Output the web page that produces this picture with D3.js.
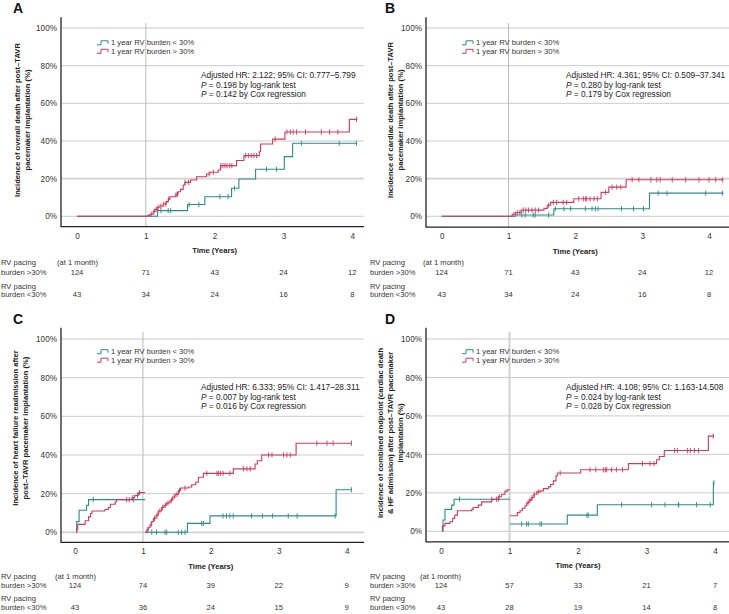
<!DOCTYPE html>
<html><head><meta charset="utf-8">
<script src="https://cdn.jsdelivr.net/npm/d3@7"></script>
<style>body{margin:0;background:#fff} svg{display:block;font-family:"Liberation Sans",Arial,Helvetica,sans-serif}</style>
</head><body><svg id="c" width="729" height="614"></svg>
<script>
// ---------- data ----------
const xTicks = [0, 1, 2, 3, 4];
const yTicks = [0, 20, 40, 60, 80, 100];
const legendLabels = ["1 year RV burden < 30%", "1 year RV burden > 30%"];
const panelLetters = ["A", "B", "C", "D"];
const yTitles = [
  ["Incidence of overall death after post\u2013TAVR", "pacemaker implantation (%)"],
  ["Incidence of cardiac death after post\u2013TAVR", "pacemaker implantation (%)"],
  ["Incidence of heart failure readmission after", "post\u2013TAVR pacemaker implantation (%)"],
  ["Incidence of combined endpoint (cardiac death", "& HF admission) after post\u2013TAVR pacemaker", "implantation (%)"]
];
const hrTexts = [
  "Adjusted HR: 2.122; 95% CI: 0.777\u20135.799",
  "Adjusted HR: 4.361; 95% CI: 0.509\u201337.341",
  "Adjusted HR: 6.333; 95% CI: 1.417\u201328.311",
  "Adjusted HR: 4.108; 95% CI: 1.163-14.508"
];
const logRankP = ["0.198", "0.280", "0.007", "0.024"];
const coxP = ["0.142", "0.179", "0.016", "0.028"];

// number at risk
const riskHighA = [124, 71, 43, 24, 12], riskLowA = [43, 34, 24, 16, 8];
const riskHighB = [124, 71, 43, 24, 12], riskLowB = [43, 34, 24, 16, 8];
const riskHighC = [124, 74, 39, 22, 9],  riskLowC = [43, 36, 24, 15, 9];
const riskHighD = [124, 57, 33, 21, 7],  riskLowD = [43, 28, 19, 14, 8];

// Panel A curves [time (years), cumulative incidence %]
const A_low = [[0,0],[1.17,3.0],[1.606,6.3],[1.858,10.4],[2.246,14.9],[2.352,19.8],[2.595,25.0],[3.012,31.7],[3.133,38.8],[4.073,38.8]];
const A_high = [[0,0],[1.03,0.5],[1.058,1.1],[1.107,2.5],[1.131,3.7],[1.165,4.8],[1.204,5.5],[1.252,6.5],[1.30,7.8],[1.325,9.0],[1.349,10.4],[1.436,11.7],[1.47,13.0],[1.504,14.3],[1.543,16.6],[1.567,18.0],[1.65,19.3],[1.737,21.0],[1.882,22.5],[1.931,23.4],[2.052,24.6],[2.086,26.9],[2.318,29.6],[2.425,32.2],[2.648,34.3],[2.667,38.4],[2.842,41.0],[3.021,44.8],[3.957,51.5],[4.073,51.5]];
const A_lowCens = [1.22,1.325,1.36,1.63,1.77,2.076,2.196,2.29,2.753,2.898,3.26,3.81,4.06];
const A_highCens = [1.08,1.12,1.15,1.18,1.22,1.26,1.29,1.33,1.44,1.46,1.57,1.62,1.92,1.98,2.09,2.12,2.15,2.18,2.22,2.25,2.45,2.49,2.53,2.57,2.61,2.88,3.05,3.10,3.14,3.19,3.32,3.55,3.67,3.79,4.06];

// Panel B
const B_low = [[0,0],[1.105,0.7],[1.678,4.0],[3.11,12.3],[4.22,12.3]];
const B_high = [[0,0],[1.055,1.1],[1.105,2.0],[1.19,3.3],[1.53,4.2],[1.58,5.9],[1.63,7.4],[1.977,9.3],[2.385,12.7],[2.5,15.5],[2.76,19.4],[4.22,19.4]];
const B_lowCens = [1.2,1.25,1.37,1.4,1.6,1.7,1.83,1.93,2.15,2.25,2.3,2.34,2.69,2.87,3.02,3.24,3.37,3.95,4.2];
const B_highCens = [1.08,1.13,1.17,1.22,1.26,1.3,1.35,1.4,1.45,1.6,1.67,1.72,1.82,1.87,2.05,2.12,2.15,2.17,2.22,2.28,2.33,2.45,2.55,2.62,2.68,2.85,2.95,3.13,3.22,3.27,3.45,3.65,3.85,4.0,4.1,4.2];

// Panel C (two landmark segments)
const C_low1 = [[0.02,0],[0.025,5.5],[0.06,11.4],[0.17,14.0],[0.2,16.9],[1.03,16.9]];
const C_high1 = [[0.02,0],[0.025,1.5],[0.04,4.1],[0.15,6.0],[0.2,8.0],[0.23,9.7],[0.25,11.0],[0.44,11.8],[0.49,12.8],[0.52,14.5],[0.59,15.7],[0.61,16.9],[0.84,17.9],[0.88,19.0],[0.93,20.5],[1.03,20.5]];
const C_low2 = [[1.03,0],[1.655,4.6],[1.988,8.5],[3.844,22.0],[4.075,22.0]];
const C_high2 = [[1.03,0],[1.055,1.2],[1.08,2.6],[1.105,3.9],[1.129,5.5],[1.154,7.2],[1.193,8.9],[1.227,11.1],[1.276,12.8],[1.311,14.0],[1.35,15.2],[1.399,16.6],[1.438,18.3],[1.473,19.6],[1.522,21.7],[1.556,22.9],[1.669,23.4],[1.718,24.6],[1.777,25.9],[1.816,28.5],[1.89,30.5],[2.332,32.8],[2.651,35.3],[2.685,37.0],[2.749,40.0],[3.255,46.1],[4.075,46.1]];
const C_lowCens = [0.27,0.86,1.13,1.2,1.325,1.35,1.52,1.57,1.62,1.865,1.89,2.18,2.23,2.28,2.33,2.6,2.76,2.91,3.14,3.27,3.83,4.07];
const C_highCens = [0.76,0.8,0.85,0.92,0.95,1.07,1.12,1.17,1.21,1.25,1.29,1.33,1.37,1.42,1.46,1.5,1.54,1.62,1.94,2.09,2.11,2.14,2.18,2.28,2.48,2.53,2.58,2.85,2.9,3.07,3.12,3.17,3.56,3.71,3.8,4.07];

// Panel D (two landmark segments)
const D_low1 = [[0.024,0],[0.03,5.9],[0.058,11.4],[0.156,13.6],[0.19,16.7],[1.007,16.7]];
const D_high1 = [[0.015,0],[0.02,2.8],[0.058,4.1],[0.13,5.0],[0.17,6.7],[0.2,8.4],[0.24,10.7],[0.45,11.4],[0.47,12.4],[0.545,13.6],[0.594,15.3],[0.74,16.6],[0.837,18.0],[0.886,19.3],[0.934,20.9],[0.968,21.6],[1.007,21.6]];
const D_low2 = [[1.007,3.8],[1.844,8.4],[2.282,13.8],[3.976,25.3],[3.985,25.3]];
const D_high2 = [[1.007,8.1],[1.114,9.7],[1.153,10.7],[1.187,12.0],[1.226,13.3],[1.25,14.8],[1.285,16.2],[1.324,17.6],[1.358,19.3],[1.397,20.5],[1.445,21.0],[1.494,22.2],[1.567,23.1],[1.601,24.3],[1.64,26.2],[1.679,28.8],[1.698,30.3],[2.039,32.0],[2.735,35.2],[3.148,37.2],[3.187,38.9],[3.26,42.0],[3.903,49.5],[3.985,49.5]];
const D_lowCens = [0.27,0.84,1.178,1.25,1.275,1.445,1.47,2.13,2.15,2.637,3.075,3.27,3.465,3.47,3.73,3.93,3.985];
const D_highCens = [0.74,0.81,0.85,1.27,1.3,1.33,1.36,1.42,1.74,2.175,2.26,2.37,2.4,2.42,2.49,2.56,2.65,2.94,3.05,3.11,3.41,3.45,3.6,3.64,3.7,3.76,3.975];

// ---------- layout ----------
const TEAL = "#2a8a8c", RED = "#c93c5e";
const panels = [
  {axisX:61,  right:364, x0:77,    x4:352.3, y0:216.3, y100:28,  top:17.3,  vTop:23,    bottom:226.7, letterX:13,  letterY:13, titleCY:120, titleX:[17,27],
   thickGrid:20, vW:0.9,
   lowSegs:[A_low], highSegs:[A_high], lowC:A_lowCens, highC:A_highCens, riskH:riskHighA, riskL:riskLowA, tblX:1, monthX:57, tblY:[265.4,274.7,288.7,297.4]},
  {axisX:426, right:729, x0:441.7, x4:709,   y0:216.3, y100:28,  top:17.3,  vTop:23,    bottom:227.2, letterX:385, letterY:13, titleCY:120, titleX:[390,400],
   thickGrid:20, vW:0.9,
   lowSegs:[B_low], highSegs:[B_high], lowC:B_lowCens, highC:B_highCens, riskH:riskHighB, riskL:riskLowB, tblX:370, monthX:423, tblY:[265.4,274.7,288.7,297.4]},
  {axisX:61,  right:364, x0:75,    x4:346.7, y0:532.3, y100:339, top:327.7, vTop:331.7, bottom:542.3, letterX:13,  letterY:324, titleCY:428, titleX:[15,25],
   thickGrid:0, vW:0.9,
   lowSegs:[C_low1,C_low2], highSegs:[C_high1,C_high2], lowC:C_lowCens, highC:C_highCens, riskH:riskHighC, riskL:riskLowC, tblX:1, monthX:55, tblY:[579.4,588.4,601,609.7]},
  {axisX:426, right:729, x0:441,   x4:715,   y0:531.3, y100:339, top:327.7, vTop:331.7, bottom:541.8, letterX:385, letterY:324, titleCY:433, titleX:[380,390,400],
   thickGrid:-1, vW:2,
   lowSegs:[D_low1,D_low2], highSegs:[D_high1,D_high2], lowC:D_lowCens, highC:D_highCens, riskH:riskHighD, riskL:riskLowD, tblX:370, monthX:420, tblY:[579.4,588.4,601,609.7]}
];

const svg = d3.select("#c");

function stepValue(segs, t) {
  let seg = segs.find(s => t >= s[0][0] && t <= s[s.length-1][0] + 1e-9) || segs[segs.length-1];
  let v = seg[0][1];
  for (const d of seg) { if (d[0] <= t) v = d[1]; }
  return v;
}

panels.forEach((p, i) => {
  const g = svg.append("g");
  const x = d3.scaleLinear().domain([0, 4]).range([p.x0, p.x4]);
  const y = d3.scaleLinear().domain([0, 100]).range([p.y0, p.y100]);

  // horizontal gridlines
  g.append("g").selectAll("line").data(yTicks).join("line")
    .attr("x1", p.axisX).attr("x2", p.right)
    .attr("y1", d => y(d)).attr("y2", d => y(d))
    .attr("stroke", d => d === p.thickGrid ? "#d2d2d2" : "#c4c4c4")
    .attr("stroke-width", d => d === p.thickGrid ? 1.8 : 0.9);
  // vertical landmark line at 1 year
  g.append("line").attr("x1", x(1)).attr("x2", x(1)).attr("y1", p.vTop).attr("y2", p.bottom)
    .attr("stroke", p.vW > 1 ? "#d0d0d0" : "#b4b4b4").attr("stroke-width", p.vW);

  // axes
  const ya = g.append("g").attr("transform", `translate(${p.axisX},0)`)
    .call(d3.axisLeft(y).tickValues(yTicks).tickFormat(d => d + "%").tickSize(0).tickPadding(4));
  ya.select(".domain").remove();
  ya.selectAll("text").attr("font-size", 8.2).attr("fill", "#333").attr("font-family", null);
  const xa = g.append("g").attr("transform", `translate(0,${p.bottom})`)
    .call(d3.axisBottom(x).tickValues(xTicks).tickFormat(d3.format("d")).tickSize(0).tickPadding(6));
  xa.select(".domain").remove();
  xa.selectAll("text").attr("font-size", 8.2).attr("fill", "#333").attr("font-family", null);
  g.append("path").attr("d", `M${p.axisX},${p.top}V${p.bottom}H${p.right}`)
    .attr("fill", "none").attr("stroke", "#222").attr("stroke-width", 1.3);

  // curves
  const line = d3.line().x(d => x(d[0])).y(d => y(d[1])).curve(d3.curveStepAfter);
  const drawGroup = (segs, cens, color) => {
    segs.forEach(s => g.append("path").attr("d", line(s)).attr("fill", "none")
      .attr("stroke", color).attr("stroke-width", 1.1));
    g.append("g").selectAll("line").data(cens).join("line")
      .attr("x1", d => x(d)).attr("x2", d => x(d))
      .attr("y1", d => y(stepValue(segs, d)) - 2.6).attr("y2", d => y(stepValue(segs, d)) + 2.6)
      .attr("stroke", color).attr("stroke-width", 0.9);
  };
  drawGroup(p.lowSegs, p.lowC, TEAL);
  drawGroup(p.highSegs, p.highC, RED);

  // panel letter
  g.append("text").attr("x", p.letterX).attr("y", p.letterY)
    .attr("font-size", 14).attr("font-weight", "bold").attr("fill", "#111").text(panelLetters[i]);

  // y title
  yTitles[i].forEach((s, k) => {
    g.append("text").attr("transform", `translate(${p.titleX[k]},${p.titleCY}) rotate(-90)`)
      .attr("text-anchor", "middle").attr("dominant-baseline", "central")
      .attr("font-size", 7.6).attr("font-weight", "bold").attr("fill", "#222").text(s);
  });

  // x title
  g.append("text").attr("x", x(2)).attr("y", p.bottom + 26.5).attr("text-anchor", "middle")
    .attr("font-size", 7.6).attr("font-weight", "bold").attr("fill", "#222").text("Time (Years)");

  // legend
  const legY = (i < 2 ? [42.8, 51.3] : [351.7, 360.2]);
  const lx = p.axisX + 36;
  [TEAL, RED].forEach((c, k) => {
    g.append("path").attr("d", `M${lx},${legY[k]+2}H${lx+4}V${legY[k]-2}H${lx+11}V${legY[k]+1}`)
      .attr("fill", "none").attr("stroke", c).attr("stroke-width", 1);
    g.append("text").attr("x", lx + 14).attr("y", legY[k] + 2.6).attr("font-size", 7.6).attr("fill", "#333")
      .text(legendLabels[k]);
  });

  // annotation
  const ax = p.axisX + 140;
  const ay = (i < 2 ? 78 : 390);
  g.append("text").attr("x", ax).attr("y", ay).attr("font-size", 8.3).attr("fill", "#222").text(hrTexts[i]);
  const t2 = g.append("text").attr("x", ax).attr("y", ay + 9.6).attr("font-size", 8.3).attr("fill", "#222");
  t2.append("tspan").attr("font-style", "italic").text("P");
  t2.append("tspan").text(" = " + logRankP[i] + " by log-rank test");
  const t3 = g.append("text").attr("x", ax).attr("y", ay + 19.2).attr("font-size", 8.3).attr("fill", "#222");
  t3.append("tspan").attr("font-style", "italic").text("P");
  t3.append("tspan").text(" = " + coxP[i] + " by Cox regression");

  // risk table
  const fs = 7.6;
  const ty = p.tblY;
  const lab = (txt, xx, yy) => g.append("text").attr("x", xx).attr("y", yy).attr("font-size", fs)
    .attr("fill", "#333").text(txt);
  lab("RV pacing", p.tblX, ty[0]);
  lab("(at 1 month)", p.monthX, ty[0]);
  lab("burden >30%", p.tblX, ty[1]);
  lab("RV pacing", p.tblX, ty[2]);
  lab("burden <30%", p.tblX, ty[3]);
  g.append("g").selectAll("text").data(p.riskH).join("text")
    .attr("x", (d, k) => x(xTicks[k])).attr("y", ty[1]).attr("text-anchor", "middle")
    .attr("font-size", fs).attr("fill", "#333").text(d => d);
  g.append("g").selectAll("text").data(p.riskL).join("text")
    .attr("x", (d, k) => x(xTicks[k])).attr("y", ty[3]).attr("text-anchor", "middle")
    .attr("font-size", fs).attr("fill", "#333").text(d => d);
});
</script>
</body></html>
